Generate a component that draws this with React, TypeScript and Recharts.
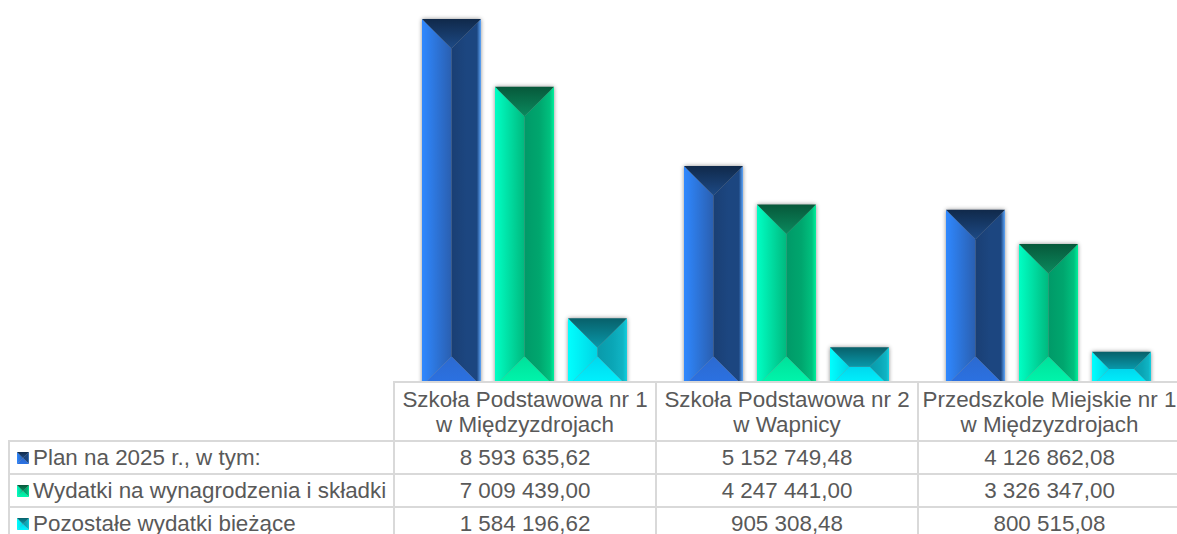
import { Bar, BarChart, XAxis, YAxis } from "recharts";

const CATEGORIES = [
  "Szkoła Podstawowa nr 1 w Międzyzdrojach",
  "Szkoła Podstawowa nr 2 w Wapnicy",
  "Przedszkole Miejskie nr 1 w Międzyzdrojach",
];
const CATEGORY_LINES = [
  ["Szkoła Podstawowa nr 1", "w Międzyzdrojach"],
  ["Szkoła Podstawowa nr 2", "w Wapnicy"],
  ["Przedszkole Miejskie nr 1", "w Międzyzdrojach"],
];
const PLAN = [8593635.62, 5152749.48, 4126862.08];
const WAGES = [7009439.0, 4247441.0, 3326347.0];
const OTHER = [1584196.62, 905308.48, 800515.08];

const SERIES = [
  { key: "plan", name: "Plan na 2025 r., w tym:", values: PLAN },
  { key: "wages", name: "Wydatki na wynagrodzenia i składki", values: WAGES },
  { key: "other", name: "Pozostałe wydatki bieżące", values: OTHER },
];

// bevel colours per series: [from, to] for each face of the bar
const FACES: Record<string, any> = {
  plan: {
    top: ["#10294a", "#1d4a86"],
    left: ["#2f88ff", "#2a5fb0"],
    right: ["#1a3f74", "#1c4680", "#1c4680", "#5ea6fa"],
    bottom: ["#2c6ad0", "#2b72e4"],
  },
  wages: {
    top: ["#07583a", "#0a8a5e"],
    left: ["#00ffc4", "#00b97e"],
    right: ["#009a68", "#00a66e", "#00c07e", "#00f09c"],
    bottom: ["#00e09a", "#00f8ae"],
  },
  other: {
    top: ["#08606a", "#0898aa"],
    left: ["#00ffff", "#00d4e4"],
    right: ["#0a9aaa", "#0aa6b6", "#10b4c4", "#12d0e0"],
    bottom: ["#00d8ee", "#00f4ff"],
  },
};

const data = CATEGORIES.map((name, i) => ({
  name,
  plan: PLAN[i],
  wages: WAGES[i],
  other: OTHER[i],
}));

function formatPl(v: number) {
  const [a, b] = v.toFixed(2).split(".");
  return `${a.replace(/\B(?=(\d{3})+$)/g, " ")},${b}`;
}

function Gradients({ prefix }: { prefix: string }) {
  return (
    <>
      {Object.keys(FACES).map((k) => {
        const f = FACES[k];
        return (
          <g key={k}>
            <linearGradient id={`${prefix}${k}-top`} x1="0" y1="0" x2="0" y2="1">
              <stop offset="0" stopColor={f.top[0]} />
              <stop offset="1" stopColor={f.top[1]} />
            </linearGradient>
            <linearGradient id={`${prefix}${k}-left`} x1="0" y1="0" x2="1" y2="0">
              <stop offset="0" stopColor={f.left[0]} />
              <stop offset="1" stopColor={f.left[1]} />
            </linearGradient>
            <linearGradient id={`${prefix}${k}-right`} x1="0" y1="0" x2="1" y2="0">
              <stop offset="0" stopColor={f.right[0]} />
              <stop offset="0.5" stopColor={f.right[1]} />
              <stop offset="0.86" stopColor={f.right[2]} />
              <stop offset="1" stopColor={f.right[3]} />
            </linearGradient>
            <linearGradient id={`${prefix}${k}-bottom`} x1="0" y1="0" x2="0" y2="1">
              <stop offset="0" stopColor={f.bottom[0]} />
              <stop offset="1" stopColor={f.bottom[1]} />
            </linearGradient>
          </g>
        );
      })}
    </>
  );
}

function Bevel({ x, y, width, height, id }: any) {
  const d = Math.min(width, height) / 2;
  const x2 = x + width;
  const y2 = y + height;
  const pts = (a: number[][]) => a.map((p) => p.join(",")).join(" ");
  return (
    <g style={{ filter: "drop-shadow(0 0 2px rgba(0,0,0,0.45))" }}>
      <polygon
        fill={`url(#${id}-left)`}
        points={pts([[x, y], [x + d, y + d], [x + d, y2 - d], [x, y2]])}
      />
      <polygon
        fill={`url(#${id}-right)`}
        points={pts([[x2, y], [x2 - d, y + d], [x2 - d, y2 - d], [x2, y2]])}
      />
      <polygon
        fill={`url(#${id}-bottom)`}
        points={pts([[x, y2], [x + d, y2 - d], [x2 - d, y2 - d], [x2, y2]])}
      />
      <polygon
        fill={`url(#${id}-top)`}
        points={pts([[x, y], [x2, y], [x2 - d, y + d], [x + d, y + d]])}
      />
    </g>
  );
}

function Swatch({ id }: { id: string }) {
  return (
    <svg width={12} height={12} style={{ marginRight: 4, flex: "none" }}>
      <Gradients prefix="sw-" />
      <Bevel x={0} y={0} width={12} height={12} id={`sw-${id}`} />
    </svg>
  );
}

const line = "2px solid #d9d9d9";
const cell = { border: line, padding: 0, textAlign: "center" as const };

export default function App() {
  return (
    <div
      style={{
        position: "absolute",
        left: 0,
        top: 0,
        width: 1177,
        height: 534,
        overflow: "hidden",
        background: "#fff",
        fontFamily: "'Liberation Sans', Arial, sans-serif",
        color: "#595959",
        fontSize: 22.4,
        lineHeight: "25px",
      }}
    >
      {/* bars run on to the zero line at y=386, the table covers the last few px */}
      <BarChart
        width={1179}
        height={534}
        data={data}
        margin={{ top: 19, right: 0, left: 393, bottom: 148 }}
        barSize={59}
        barGap={14}
      >
        <defs>
          <Gradients prefix="" />
        </defs>
        <XAxis dataKey="name" hide />
        <YAxis hide domain={[0, 8593635.62]} />
        {SERIES.map((s) => (
          <Bar
            key={s.key}
            dataKey={s.key}
            name={s.name}
            isAnimationActive={false}
            shape={(p: any) => <Bevel {...p} id={s.key} />}
          />
        ))}
      </BarChart>
      <table
        style={{
          position: "absolute",
          left: 8,
          top: 381,
          width: 1172,
          tableLayout: "fixed",
          borderCollapse: "collapse",
          background: "#fff",
        }}
      >
        <colgroup>
          <col style={{ width: 385 }} />
          <col style={{ width: 262 }} />
          <col style={{ width: 262 }} />
          <col style={{ width: 263 }} />
        </colgroup>
        <tbody>
          <tr style={{ height: 59 }}>
            <td style={{ borderRight: line, borderBottom: line }} />
            {CATEGORY_LINES.map((l) => (
              <td key={l[0]} style={{ ...cell, whiteSpace: "nowrap" }}>
                {l[0]}
                <br />
                {l[1]}
              </td>
            ))}
          </tr>
          {SERIES.map((s) => (
            <tr key={s.key} style={{ height: 33 }}>
              <td style={{ ...cell, textAlign: "left", whiteSpace: "nowrap" }}>
                <div style={{ display: "flex", alignItems: "center", paddingLeft: 7 }}>
                  <Swatch id={s.key} />
                  {s.name}
                </div>
              </td>
              {s.values.map((v, i) => (
                <td key={i} style={cell}>
                  {formatPl(v)}
                </td>
              ))}
            </tr>
          ))}
        </tbody>
      </table>
    </div>
  );
}
